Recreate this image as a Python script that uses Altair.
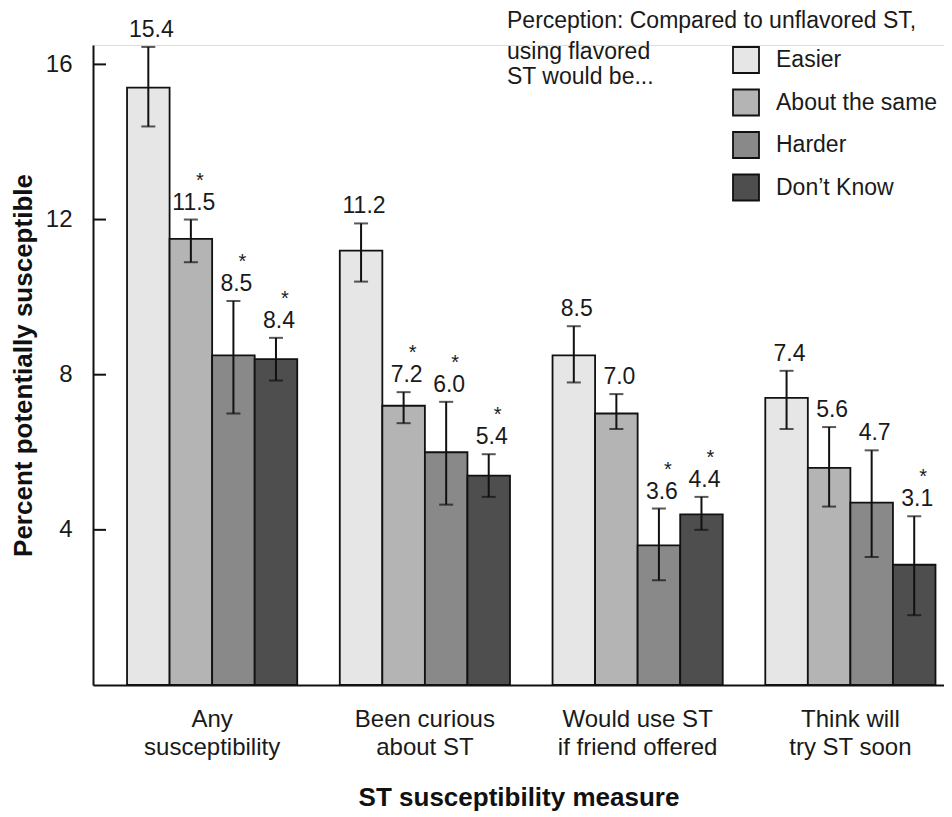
import altair as alt
import pandas as pd

# ---- data ----
measures = ["Any\nsusceptibility", "Been curious\nabout ST",
            "Would use ST\nif friend offered", "Think will\ntry ST soon"]
perceptions = ["Easier", "About the same", "Harder", "Don\u2019t Know"]
colors = ["#e6e6e6", "#b4b4b4", "#898989", "#4e4e4e"]

values = [
    [15.4, 11.5, 8.5, 8.4],
    [11.2, 7.2, 6.0, 5.4],
    [8.5, 7.0, 3.6, 4.4],
    [7.4, 5.6, 4.7, 3.1],
]
ci_low = [
    [14.4, 10.9, 7.0, 7.85],
    [10.4, 6.75, 4.65, 4.85],
    [7.8, 6.6, 2.7, 4.0],
    [6.6, 4.6, 3.3, 1.8],
]
ci_high = [
    [16.45, 12.0, 9.9, 8.95],
    [11.9, 7.55, 7.3, 5.95],
    [9.25, 7.5, 4.55, 4.85],
    [8.1, 6.65, 6.05, 4.35],
]
stars = [
    ["", "*", "*", "*"],
    ["", "*", "*", "*"],
    ["", "", "*", "*"],
    ["", "", "", "*"],
]
y_ticks = [4, 8, 12, 16]
legend_title_lines = ["Perception: Compared to unflavored ST,", "using flavored", "ST would be..."]

rows = []
for i, m in enumerate(measures):
    for j, p in enumerate(perceptions):
        rows.append({
            "measure": m, "perception": p, "value": values[i][j],
            "lo": ci_low[i][j], "hi": ci_high[i][j],
            "label": f"{values[i][j]:.1f}", "star": stars[i][j],
        })
df = pd.DataFrame(rows)

FONT = "Liberation Sans, Arial, Helvetica, sans-serif"
YTITLE = "Percent  potentially susceptible"
XTITLE = "ST susceptibility measure"
INK = "#1a1a1a"

x_enc = alt.X("measure:N", sort=measures, title=XTITLE,
              scale=alt.Scale(paddingInner=0.2, paddingOuter=0.1, align=0.8),
              axis=alt.Axis(labelExpr="split(datum.label, '\\n')", labelAngle=0,
                            ticks=False, tickSize=0, labelPadding=22,
                            labelFontSize=24, labelLineHeight=28, labelColor=INK,
                            labelFont=FONT, domainColor="#111", domainWidth=2,
                            titleFont=FONT, titleFontSize=26, titleFontWeight="bold",
                            titleColor="#111", titlePadding=25))
xoff = alt.XOffset("perception:N", sort=perceptions,
                   scale=alt.Scale(paddingInner=0, paddingOuter=0))
y_scale = alt.Scale(domain=[0, 16.5], nice=False, zero=True)

bars = alt.Chart(df).mark_bar(stroke="#111", strokeWidth=1.8).encode(
    x=x_enc,
    xOffset=xoff,
    y=alt.Y("value:Q", scale=y_scale, title=YTITLE,
            axis=alt.Axis(values=y_ticks, ticks=False, tickSize=0, grid=False,
                          labelFontSize=24, labelPadding=21, labelColor=INK,
                          labelFont=FONT, domainColor="#111", domainWidth=2,
                          titleFont=FONT, titleFontSize=26, titleFontWeight="bold",
                          titleColor="#111", titlePadding=9)),
    color=alt.Color("perception:N", sort=perceptions,
                    scale=alt.Scale(domain=perceptions, range=colors),
                    legend=alt.Legend(title=None, orient="none", legendX=639, legendY=1,
                                      symbolType="square", symbolSize=676,
                                      symbolStrokeColor="#111", symbolStrokeWidth=1.8,
                                      symbolOpacity=1, labelLimit=400,
                                      labelFontSize=23, labelFont=FONT, labelColor=INK,
                                      labelOffset=16, rowPadding=8.5, padding=0)),
)

err = alt.Chart(df).mark_rule(color="#111", strokeWidth=2).encode(
    x=alt.X("measure:N", sort=measures, title=XTITLE),
    xOffset=xoff,
    y=alt.Y("lo:Q", scale=y_scale, title=YTITLE),
    y2="hi:Q",
)
cap_lo = alt.Chart(df).mark_tick(color="#111", size=14, thickness=2).encode(
    x=alt.X("measure:N", sort=measures, title=XTITLE),
    xOffset=xoff,
    y=alt.Y("lo:Q", scale=y_scale, title=YTITLE),
)
cap_hi = alt.Chart(df).mark_tick(color="#111", size=14, thickness=2).encode(
    x=alt.X("measure:N", sort=measures, title=XTITLE),
    xOffset=xoff,
    y=alt.Y("hi:Q", scale=y_scale, title=YTITLE),
)
labels = alt.Chart(df).mark_text(fontSize=23, font=FONT, color=INK,
                                 baseline="alphabetic", dy=-10, dx=3).encode(
    x=alt.X("measure:N", sort=measures, title=XTITLE),
    xOffset=xoff,
    y=alt.Y("hi:Q", scale=y_scale, title=YTITLE),
    text="label:N",
)
star_marks = alt.Chart(df).mark_text(fontSize=20, font=FONT, color=INK,
                                     baseline="alphabetic", dy=-33, dx=9).encode(
    x=alt.X("measure:N", sort=measures, title=XTITLE),
    xOffset=xoff,
    y=alt.Y("hi:Q", scale=y_scale, title=YTITLE),
    text="star:N",
)

tick_df = pd.DataFrame({"t": y_ticks})
inner_ticks = alt.Chart(tick_df).mark_rule(color="#111", strokeWidth=2).encode(
    y=alt.Y("t:Q", scale=y_scale, title=YTITLE),
    x=alt.value(0), x2=alt.value(13),
)

title_df = pd.DataFrame({"line": legend_title_lines, "yy": [-17, 14, 39]})
title_text = alt.Chart(title_df).mark_text(fontSize=23, font=FONT, color=INK,
                                           align="left", baseline="alphabetic").encode(
    x=alt.value(414),
    y=alt.Y("yy:Q", scale=None),
    text="line:N",
)

chart = alt.layer(bars, err, cap_lo, cap_hi, labels, star_marks, inner_ticks, title_text).properties(
    width=851, height=640,
    autosize=alt.AutoSizeParams(type="none"),
    padding={"left": 85, "top": 37, "right": 0, "bottom": 128},
).configure_view(stroke=None).configure(background="white")

chart.save("out.html", embed_options={"renderer": "svg", "actions": False})
